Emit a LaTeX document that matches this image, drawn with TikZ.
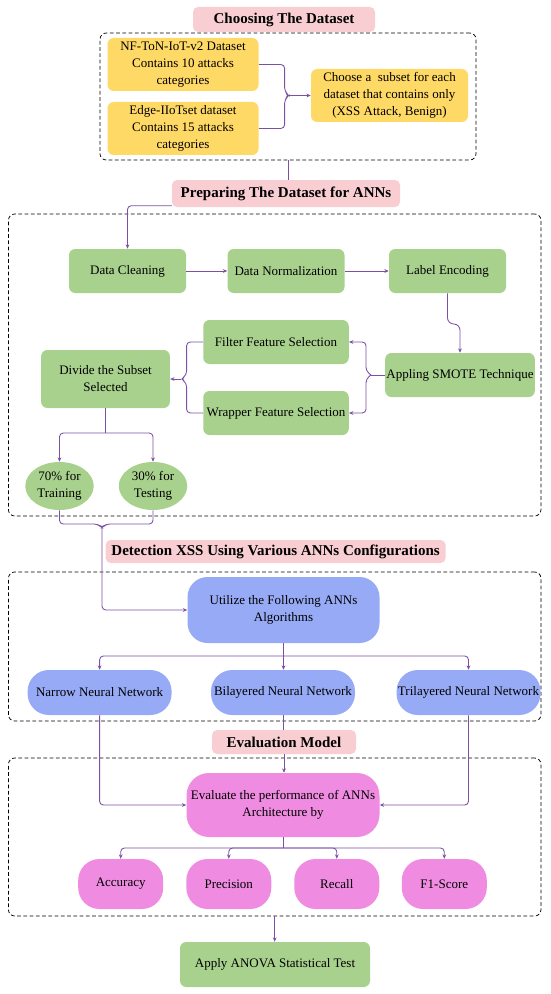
\documentclass[tikz,border=0pt]{standalone}
\usepackage{fontspec}
\setmainfont{Liberation Serif}
\usepackage{xcolor}
\usepackage{tikz}
\usetikzlibrary{shapes.geometric,arrows.meta,positioning}

\definecolor{pinkT}{RGB}{248,206,210}
\definecolor{yellowD}{RGB}{255,217,102}
\definecolor{greenP}{RGB}{169,209,142}
\definecolor{blueA}{RGB}{151,170,246}
\definecolor{magM}{RGB}{239,140,225}
\definecolor{lineC}{RGB}{125,80,165}

\begin{document}
\begin{tikzpicture}[x=0.8pt,y=-0.8pt,
      font=\fontsize{10.4}{13.6}\selectfont,
      node/.style={rounded corners=5pt,align=center,inner sep=1pt},
      stage/.style={node,fill=pinkT,rounded corners=4pt,
                    font=\fontsize{12}{14}\selectfont\bfseries},
      data/.style={node,fill=yellowD,minimum width=120.8pt,minimum height=42.4pt},
      proc/.style={node,fill=greenP,minimum height=35.2pt},
      split/.style={ellipse,fill=greenP,minimum width=54.8pt,minimum height=38.4pt,
                    inner sep=0pt,align=center},
      ann/.style={node,fill=blueA,rounded corners=17pt,minimum width=115.2pt,minimum height=36pt},
      metric/.style={node,fill=magM,rounded corners=17pt,minimum width=68pt,minimum height=40pt},
      panel/.style={draw,densely dashed,rounded corners=5pt,line width=0.6pt,inner sep=0pt},
      link/.style={draw=lineC,line width=0.7pt,rounded corners=3pt},
      arr/.style={link,-{Stealth[length=3.5pt,width=3pt]}},
  ]
  \useasboundingbox (0,0) rectangle (550,994);

  % Choosing the dataset
  \node[stage,minimum width=145.6pt,minimum height=20pt] (t1) at (284,19.5) {Choosing The Dataset};
  \node[panel,minimum width=300.8pt,minimum height=101.6pt] (p1) at (288,96.5) {};
  \node[data] (nf) at (183,64.5) {NF-ToN-IoT-v2 Dataset\\Contains 10 attacks\\categories};
  \node[data] (edge) at (183,128.5) {Edge-IIoTset dataset\\Contains 15 attacks\\categories};
  \node[data,minimum width=125.6pt] (sub) at (389.5,95.5)
    {Choose a\ \ subset for each\\dataset that contains only\\(XSS Attack, Benign)};

  \coordinate (b1) at (289,95.5);
  \draw[link] (nf.east) -- (284.6,64.5) -- (284.6,91.5) -- (b1) -- (284.6,99.5)
    -- (284.6,128.5) -- (edge.east);
  \draw[arr] (b1) -- (sub.west);

  % Preparing the dataset
  \node[stage,minimum width=182.4pt,minimum height=21.6pt] (t2) at (286,193.5) {Preparing The Dataset for ANNs};
  \node[panel,minimum width=426pt,minimum height=241.6pt] (p2) at (274.7,365) {};
  \node[proc,minimum width=93.6pt] (clean) at (127.5,271) {Data Cleaning};
  \node[proc,minimum width=93.6pt] (norm) at (286,271) {Data Normalization};
  \node[proc,minimum width=93.6pt] (enc) at (447.5,271) {Label Encoding};
  \node[proc,minimum width=118.9pt] (smote) at (460,375) {Appling SMOTE Technique};
  \node[proc,minimum width=116.4pt] (filt) at (276,342) {Filter Feature Selection};
  \node[proc,minimum width=116.4pt] (wrap) at (276,413) {Wrapper Feature Selection};
  \node[proc,minimum width=103pt,minimum height=46.4pt] (div) at (105.5,379) {Divide the Subset\\Selected};
  \node[split] (train) at (59.5,486) {70\% for\\Training};
  \node[split] (test) at (153,486) {30\% for\\Testing};

  \draw[link] (p1.south) -- (p1.south |- t2.north);
  \draw[arr] ([yshift=1.2pt]t2.south west) -| (clean.north);
  \draw[arr] (clean) -- (norm);
  \draw[arr] (norm) -- (enc);
  \draw[arr,rounded corners=5pt] (enc.south) -- (447.5,324) -- (460,324) -- (smote.north);

  \coordinate (b2) at (371,375);
  \draw[link] (smote.west) -- (b2);
  \draw[arr] (b2) -- (366,371) -- (366,342) -- (filt.east);
  \draw[arr] (b2) -- (366,379) -- (366,413) -- (wrap.east);

  \coordinate (b3) at (181,379);
  \draw[link] (filt.west) -- (186.6,342) -- (186.6,375) -- (b3) -- (186.6,383)
    -- (186.6,413) -- (wrap.west);
  \draw[arr] (b3) -- (div.east);

  \coordinate (b4) at (105.5,433);
  \draw[link] (div.south) -- (b4);
  \draw[arr] (b4) -| (train.north);
  \draw[arr] (b4) -| (test.north);

  % Detection with ANNs
  \node[stage,minimum width=272pt,minimum height=18.4pt] (t3) at (275.6,551.5)
    {Detection XSS Using Various ANNs Configurations};
  \node[panel,minimum width=426pt,minimum height=119.2pt] (p3) at (274.7,646.5) {};
  \node[ann,minimum width=153.6pt,minimum height=52.8pt,rounded corners=16pt] (util) at (283.5,610)
    {Utilize the Following ANNs\\Algorithms};
  \node[ann] (narrow) at (99.6,692.5) {Narrow Neural Network};
  \node[ann] (bil) at (283,692.5) {Bilayered Neural Network};
  \node[ann] (tri) at (468.5,692.5) {Trilayered Neural Network};

  \coordinate (b5) at (102,528);
  \draw[link] (train.south) |- (98,524) -- (b5) -- (106,524) -| (test.south);
  \draw[arr] (b5) |- (util.west);

  \coordinate (b6) at (283.5,656);
  \draw[link] (util.south) -- (b6);
  \draw[arr] (b6) -| (narrow.north);
  \draw[arr] (b6) -- (b6 |- bil.north);
  \draw[arr] (b6) -| (tri.north);

  % Evaluation
  \node[stage,minimum width=115.2pt,minimum height=19.2pt] (t4) at (284,742) {Evaluation Model};
  \node[panel,minimum width=426pt,minimum height=126.4pt] (p4) at (274.7,837) {};
  \node[metric,minimum width=154.4pt,minimum height=51.2pt,rounded corners=18pt] (eval) at (283,805)
    {Evaluate the performance of ANNs\\Architecture by};
  \node[metric] (acc) at (120.7,884) {Accuracy};
  \node[metric] (prec) at (228.8,884) {Precision};
  \node[metric] (rec) at (336.8,884) {Recall};
  \node[metric] (f1) at (444.3,884) {F1-Score};
  \node[proc,minimum width=152pt,minimum height=36pt] (anova) at (275,964.5) {Apply ANOVA Statistical Test};

  \draw[link] (bil.south) -- (bil.south |- t4.north);
  \draw[arr] (t4.south) -- (t4.south |- eval.north);
  \draw[arr] (narrow.south) |- (eval.west);
  \draw[arr] (tri.south) |- (eval.east);

  \coordinate (b7) at (283,848);
  \draw[link] (eval.south) -- (b7);
  \draw[arr] (b7) -| (acc.north);
  \draw[arr] (b7) -| (prec.north);
  \draw[arr] (b7) -| (rec.north);
  \draw[arr] (b7) -| (f1.north);
  \draw[arr] (p4.south) -- (p4.south |- anova.north);
\end{tikzpicture}
\end{document}
